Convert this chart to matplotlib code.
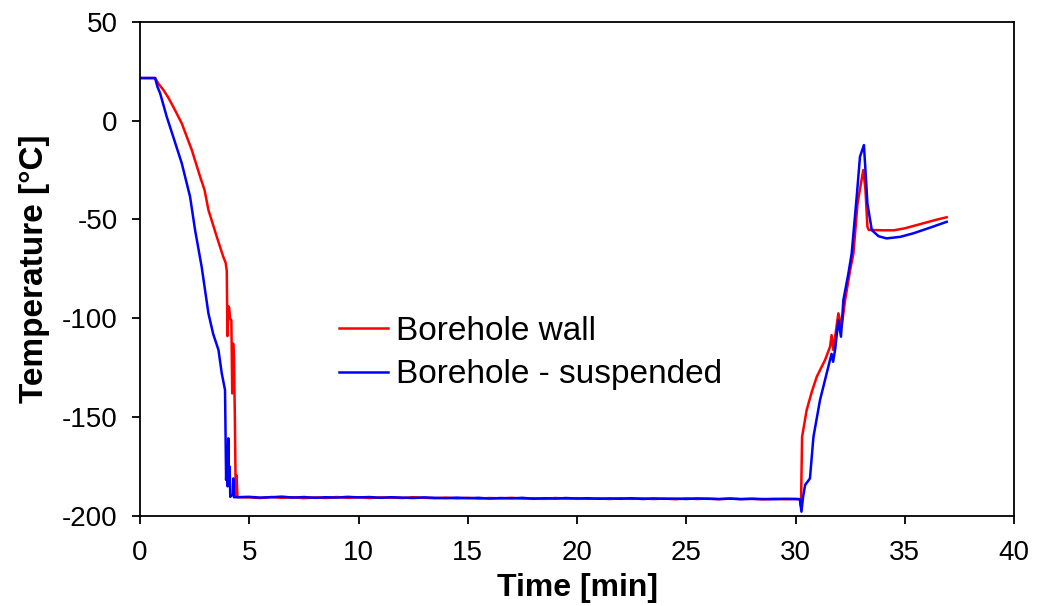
import matplotlib
matplotlib.use("Agg")
import matplotlib.pyplot as plt

plt.rcParams['font.family'] = ['Liberation Sans', 'DejaVu Sans']
plt.rcParams['axes.unicode_minus'] = False

# ---- data ----
red_t_drop = [0.0, 0.69, 0.85, 1.07, 1.3, 1.52, 1.91, 2.1, 2.37, 2.75, 2.95, 3.13, 3.35,
              3.51, 3.81, 3.92, 3.97, 4.00, 4.05, 4.08, 4.12, 4.18, 4.22, 4.26, 4.30,
              4.34, 4.38, 4.42, 4.46]
red_T_drop = [21.5, 21.5, 18.5, 15.5, 11.5, 7.0, -1.4, -7.0, -14.9, -28.4, -35.0, -45.2, -53.0,
              -58.7, -68.9, -72.0, -76.0, -109.0, -94.0, -94.5, -100.0, -101.0, -138.0, -112.7, -120.0,
              -150.0, -190.0, -179.5, -190.5]

blue_t_drop = [0.0, 0.69, 0.8, 0.92, 1.22, 1.52, 1.91, 2.29, 2.52, 2.82, 3.13, 3.35, 3.59,
               3.74, 3.89, 3.94, 3.98, 4.01, 4.04, 4.07, 4.10, 4.13, 4.25, 4.27, 4.30]
blue_T_drop = [21.5, 21.5, 17.0, 13.8, 2.0, -8.2, -21.6, -38.5, -55.4, -73.9, -97.5, -108.0, -116.0,
               -127.8, -136.3, -181.8, -165.0, -185.0, -160.7, -182.0, -175.0, -190.3, -189.0, -181.0, -190.5]

plateau_t = [5.0, 5.5, 6.0, 6.5, 7.0, 7.5, 8.0, 8.5, 9.0, 9.5, 10.0, 10.5, 11.0, 11.5, 12.0,
             12.5, 13.0, 13.5, 14.0, 14.5, 15.0, 15.5, 16.0, 16.5, 17.0, 17.5, 18.0, 18.5,
             19.0, 19.5, 20.0, 20.5, 21.0, 21.5, 22.0, 22.5, 23.0, 23.5, 24.0, 24.5, 25.0,
             25.5, 26.0, 26.5, 27.0, 27.5, 28.0, 28.5, 29.0, 29.5, 30.0, 30.2]
red_plateau = [-190.6, -190.9, -190.4, -190.8, -190.5, -191.0, -190.6, -190.9, -190.4, -190.8,
               -190.5, -190.9, -190.6, -190.7, -190.9, -190.5, -190.8, -191.0, -190.7, -191.1,
               -190.8, -191.2, -190.9, -191.1, -190.8, -191.2, -191.0, -191.3, -190.9, -191.2,
               -191.0, -191.3, -191.1, -191.4, -191.0, -191.3, -191.1, -191.4, -191.2, -191.5,
               -191.1, -191.4, -191.2, -191.5, -191.2, -191.4, -191.3, -191.6, -191.3, -191.5,
               -191.4, -191.5]
blue_plateau = [-190.3, -190.7, -190.5, -190.2, -190.7, -190.4, -190.8, -190.5, -190.7, -190.3,
                -190.6, -190.4, -190.8, -190.5, -190.7, -190.9, -190.6, -190.8, -191.0, -190.7,
                -191.0, -190.8, -191.2, -190.9, -191.1, -190.8, -191.3, -191.0, -191.2, -190.9,
                -191.2, -191.0, -191.3, -191.1, -191.3, -191.0, -191.4, -191.1, -191.3, -191.2,
                -191.4, -191.1, -191.3, -191.4, -191.2, -191.5, -191.3, -191.4, -191.5, -191.3,
                -191.4, -191.5]

red_t_rise = [30.25, 30.30, 30.51, 30.75, 30.97, 31.35, 31.58, 31.65, 31.73, 31.96, 32.11,
              32.27, 32.5, 32.65, 32.84, 33.1, 33.2, 33.29, 33.35, 34.0, 34.5, 35.0, 35.5,
              36.0, 36.5, 36.92]
red_T_rise = [-195.0, -160.0, -146.4, -137.0, -129.6, -121.1, -114.4, -108.5, -116.0, -97.5, -104.3,
              -90.8, -75.6, -67.2, -41.9, -25.0, -35.0, -53.7, -55.3, -55.5, -55.5, -54.5, -53.0,
              -51.5, -50.0, -48.9]

blue_t_rise = [30.27, 30.35, 30.44, 30.66, 30.82, 31.12, 31.58, 31.65, 31.72, 31.81, 31.96,
               32.08, 32.19, 32.42, 32.57, 32.8, 32.95, 33.13, 33.2, 33.29, 33.49, 33.8, 34.17,
               34.8, 35.4, 36.2, 36.92]
blue_T_rise = [-197.8, -190.0, -184.3, -181.0, -160.0, -141.4, -121.0, -118.0, -122.0, -116.0, -101.0,
               -109.3, -90.8, -77.3, -67.2, -38.5, -18.3, -12.4, -25.0, -41.9, -55.4, -58.5, -59.6,
               -58.8, -57.0, -54.0, -51.2]

x_ticks = [0, 5, 10, 15, 20, 25, 30, 35, 40]
y_ticks = [-200, -150, -100, -50, 0, 50]
labels = ["Borehole wall", "Borehole - suspended"]

red_t = red_t_drop + plateau_t + red_t_rise
red_T = red_T_drop + red_plateau + red_T_rise
blue_t = blue_t_drop + plateau_t + blue_t_rise
blue_T = blue_T_drop + blue_plateau + blue_T_rise

fig = plt.figure(figsize=(10.38, 6.06), dpi=100)
ax = fig.add_axes([0.1349, 0.1485, 0.9769 - 0.1349, 0.9642 - 0.1485])

ax.plot(red_t, red_T, color='#FF0000', lw=1.8, label=labels[0])
ax.plot(blue_t, blue_T, color='#0000FF', lw=1.8, label=labels[1])

ax.set_xlim(0, 40)
ax.set_ylim(-200, 50)
ax.set_xticks(x_ticks)
ax.set_yticks(y_ticks)
ax.tick_params(direction='out', length=6, width=1.3, labelsize=20, colors='black')
ax.tick_params(axis='x', pad=11)
ax.tick_params(axis='y', pad=10)
for s in ax.spines.values():
    s.set_linewidth(1.3)
    s.set_color('black')

ax.set_xlabel("Time [min]", fontsize=23, fontweight='bold', labelpad=5)
ax.set_ylabel("Temperature [°C]", fontsize=24, fontweight='bold', labelpad=9)

ax.legend(loc='upper left', bbox_to_anchor=(0.228, 0.405), frameon=False, fontsize=24,
          handlelength=1.45, handletextpad=0.25, labelspacing=0.38, borderaxespad=0,
          borderpad=0)

fig.savefig("out.png", dpi=100)
